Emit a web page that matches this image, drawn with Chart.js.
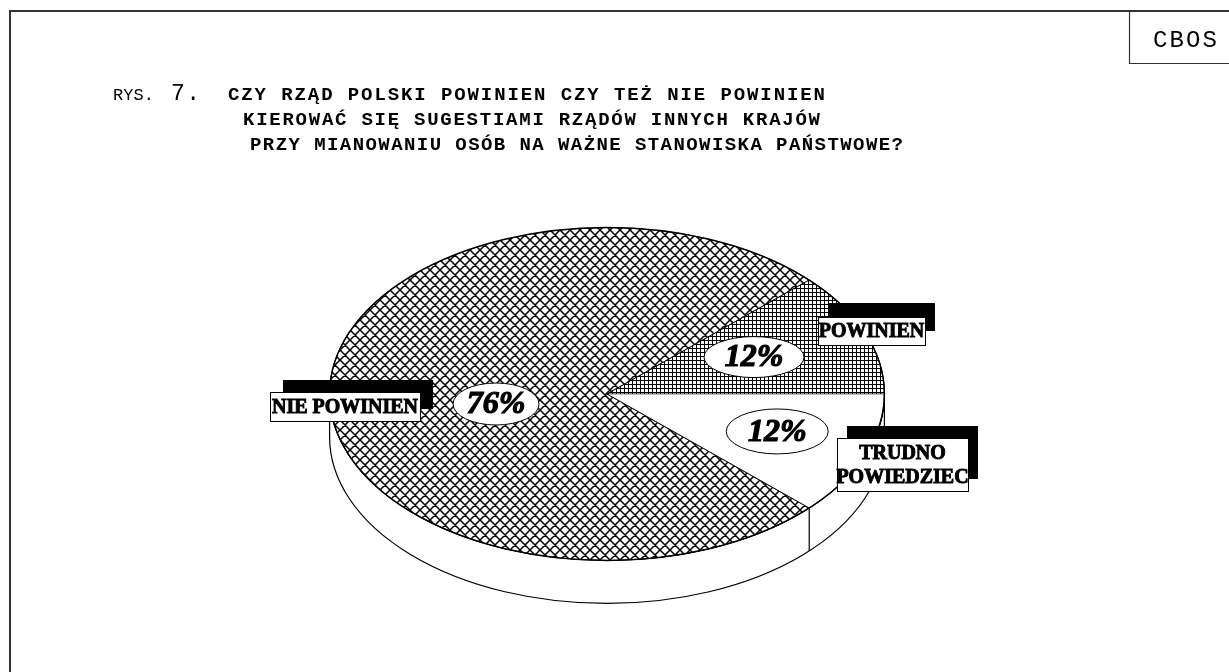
<!DOCTYPE html>
<html lang="pl">
<head>
<meta charset="utf-8">
<title>CBOS - Rys. 7</title>
<script src="https://cdn.jsdelivr.net/npm/chart.js@4.4.1/dist/chart.umd.min.js"></script>
<style>
  html, body { margin: 0; padding: 0; background: #fff; }
  canvas { display: block; }
</style>
</head>
<body>
<canvas id="pieChart" width="1229" height="672"></canvas>
<script>
// data
const answers = ["NIE POWINIEN", "POWINIEN", ["TRUDNO", "POWIEDZIEC"]];
const shares = [76, 12, 12];
const shareLabels = ["76%", "12%", "12%"];

const figLabel = "RYS.";
const figNumber = "7.";
const titleLines = [
    "CZY RZĄD POLSKI POWINIEN CZY TEŻ NIE POWINIEN",
    "KIEROWAĆ SIĘ SUGESTIAMI RZĄDÓW INNYCH KRAJÓW",
    "PRZY MIANOWANIU OSÓB NA WAŻNE STANOWISKA PAŃSTWOWE?"
];
const sourceLabel = "CBOS";

// look of the 3d pie
const TILT = 0.6;      // vertical squash of the pie
const DEPTH = 43;      // height of the side wall
const START_ROT = 133.2;

// where the annotations sit (relative to the pie centre)
const pctPlace = [
    { f: 0.40, dy: 10, w: 43, h: 21 },
    { f: 0.57, dy: -2, w: 50, h: 20.5 },
    { f: 0.66, dy: -3, w: 51, h: 22.5 }
];
const boxPlace = [
    { dx: -337, dy: -2, w: 150, h: 29, sx: 13, sy: -12 },
    { dx: 211, dy: -77, w: 107, h: 28, sx: 10, sy: -14 },
    { dx: 230, dy: 44, w: 131, h: 53, sx: 10, sy: -12 }
];
const titleSpan = [[228, 825, 100], [243, 820, 125], [250, 903, 150]];

function makeCross() {
    const s = 10;
    const c = document.createElement("canvas");
    c.width = s; c.height = s;
    const g = c.getContext("2d");
    g.fillStyle = "#fff";
    g.fillRect(0, 0, s, s);
    g.strokeStyle = "#000";
    g.lineWidth = 1.5;
    g.beginPath();
    for (let o = -s; o <= s; o += s) {
        g.moveTo(o - 1, -1); g.lineTo(o + s + 1, s + 1);
        g.moveTo(o + s + 1, -1); g.lineTo(o - 1, s + 1);
    }
    g.stroke();
    return g.createPattern(c, "repeat");
}

function makeGrid() {
    const c = document.createElement("canvas");
    c.width = 4; c.height = 4;
    const g = c.getContext("2d");
    g.fillStyle = "#fff";
    g.fillRect(0, 0, 4, 4);
    g.fillStyle = "#000";
    g.fillRect(0, 0, 4, 1);
    g.fillRect(0, 0, 1, 4);
    return g.createPattern(c, "repeat");
}

const crossFill = makeCross();
const gridFill = makeGrid();

function spaced(ctx, text, x0, x1, y) {
    const chars = [...text];
    const w = ctx.measureText("M").width;
    const pitch = (x1 - x0 - w) / (chars.length - 1);
    chars.forEach((ch, i) => ctx.fillText(ch, x0 + i * pitch, y));
}

const pie3d = {
    id: "pie3d",
    beforeDraw(chart) {
        const ctx = chart.ctx;
        ctx.save();
        // frame + source box
        ctx.strokeStyle = "#333";
        ctx.lineWidth = 2;
        ctx.beginPath();
        ctx.moveTo(10, 672); ctx.lineTo(10, 11); ctx.lineTo(1229, 11);
        ctx.stroke();
        ctx.lineWidth = 1.2;
        ctx.beginPath();
        ctx.moveTo(1129.5, 11); ctx.lineTo(1129.5, 63.5); ctx.lineTo(1229, 63.5);
        ctx.stroke();

        ctx.fillStyle = "#000";
        ctx.textBaseline = "alphabetic";
        ctx.font = "24px 'Liberation Mono', 'Courier New', monospace";
        spaced(ctx, sourceLabel, 1153, 1217, 47);

        ctx.font = "17px 'Liberation Mono', 'Courier New', monospace";
        spaced(ctx, figLabel, 113, 154, 100);
        ctx.font = "23px 'Liberation Mono', 'Courier New', monospace";
        spaced(ctx, figNumber, 171, 200, 100);

        ctx.font = "bold 19px 'Liberation Mono', 'Courier New', monospace";
        titleLines.forEach((t, i) => {
            const [x0, x1, y] = titleSpan[i];
            spaced(ctx, t, x0, x1, y);
        });
        ctx.restore();
    },
    beforeDatasetsDraw(chart) {
        const ctx = chart.ctx;
        const arcs = chart.getDatasetMeta(0).data;
        const cx = arcs[0].x, cy = arcs[0].y, r = arcs[0].outerRadius;
        const ry = r * TILT;

        // side wall of the pie
        ctx.save();
        ctx.fillStyle = "#fff";
        ctx.strokeStyle = "#000";
        ctx.lineWidth = 1.2;
        ctx.beginPath();
        ctx.moveTo(cx + r, cy);
        ctx.lineTo(cx + r, cy + DEPTH);
        ctx.ellipse(cx, cy + DEPTH, r, ry, 0, 0, Math.PI, false);
        ctx.lineTo(cx - r, cy);
        ctx.ellipse(cx, cy, r, ry, 0, Math.PI, 0, true);
        ctx.closePath();
        ctx.fill();
        ctx.stroke();
        arcs.forEach(a => {
            let ang = a.startAngle % (2 * Math.PI);
            if (ang < 0) ang += 2 * Math.PI;
            if (ang > 0.01 && ang < Math.PI - 0.01) {
                const x = cx + r * Math.cos(ang);
                const y = cy + ry * Math.sin(ang);
                ctx.beginPath();
                ctx.moveTo(x, y);
                ctx.lineTo(x, y + DEPTH);
                ctx.stroke();
            }
        });
        ctx.restore();

        // keep hatch cells square after the squash
        const m = new DOMMatrix([1, 0, 0, 1 / TILT, 0, -cy * (1 - TILT) / TILT]);
        crossFill.setTransform(m);
        gridFill.setTransform(m);

        ctx.save();
        ctx.translate(0, cy);
        ctx.scale(1, TILT);
        ctx.translate(0, -cy);
    },
    afterDatasetsDraw(chart) {
        const ctx = chart.ctx;
        ctx.restore();
        const arcs = chart.getDatasetMeta(0).data;
        const cx = arcs[0].x, cy = arcs[0].y, r = arcs[0].outerRadius;
        const ry = r * TILT;

        ctx.save();
        ctx.strokeStyle = "#000";
        ctx.lineWidth = 1.4;
        ctx.beginPath();
        ctx.ellipse(cx, cy, r, ry, 0, 0, 2 * Math.PI);
        ctx.stroke();

        // percentage ovals
        arcs.forEach((a, i) => {
            const p = pctPlace[i];
            const mid = (a.startAngle + a.endAngle) / 2;
            const x = cx + p.f * r * Math.cos(mid);
            const y = cy + p.f * ry * Math.sin(mid) + p.dy;
            ctx.fillStyle = "#fff";
            ctx.lineWidth = 1;
            ctx.beginPath();
            ctx.ellipse(x, y, p.w, p.h, 0, 0, 2 * Math.PI);
            ctx.fill();
            ctx.stroke();
            ctx.fillStyle = "#000";
            ctx.font = "bold italic 32px 'Liberation Serif', 'Times New Roman', serif";
            ctx.textAlign = "center";
            ctx.textBaseline = "middle";
            ctx.lineWidth = 1.2;
            ctx.fillText(shareLabels[i], x, y + 1);
            ctx.strokeText(shareLabels[i], x, y + 1);
        });

        // answer boxes with black drop block
        chart.data.labels.forEach((lab, i) => {
            const b = boxPlace[i];
            const x = cx + b.dx, y = cy + b.dy;
            ctx.fillStyle = "#000";
            ctx.fillRect(x + b.sx, y + b.sy, b.w, b.h);
            ctx.fillStyle = "#fff";
            ctx.fillRect(x, y, b.w, b.h);
            ctx.lineWidth = 1;
            ctx.strokeRect(x + 0.5, y + 0.5, b.w, b.h);
            const lines = Array.isArray(lab) ? lab : [lab];
            ctx.font = "bold 20px 'Liberation Serif', 'Times New Roman', serif";
            ctx.textAlign = "center";
            ctx.textBaseline = "middle";
            ctx.fillStyle = "#000";
            ctx.lineWidth = 0.9;
            const lh = 24;
            const top = y + b.h / 2 - (lines.length - 1) * lh / 2 + 1;
            lines.forEach((t, j) => {
                ctx.fillText(t, x + b.w / 2, top + j * lh);
                ctx.strokeText(t, x + b.w / 2, top + j * lh);
            });
        });
        ctx.restore();
    }
};

new Chart(document.getElementById("pieChart"), {
    type: "pie",
    data: {
        labels: answers,
        datasets: [{
            data: shares,
            backgroundColor: [crossFill, gridFill, "#fff"],
            borderColor: "#000",
            borderWidth: 1.2
        }]
    },
    options: {
        responsive: false,
        animation: false,
        events: [],
        rotation: START_ROT,
        layout: { padding: { left: 328, right: 343, top: 116, bottom: 0 } },
        plugins: {
            legend: { display: false },
            tooltip: { enabled: false }
        }
    },
    plugins: [pie3d]
});
</script>
</body>
</html>
